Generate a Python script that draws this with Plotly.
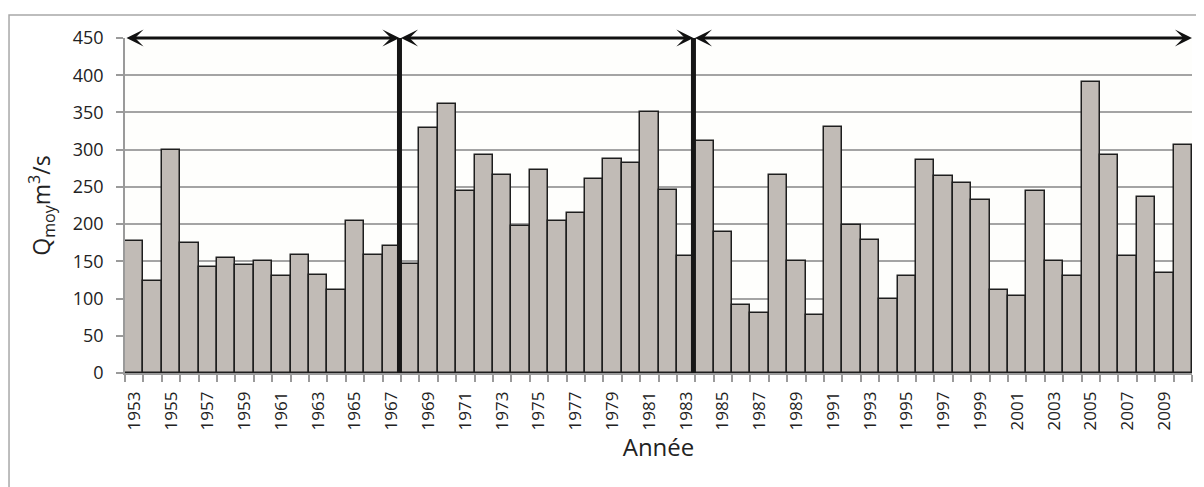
import plotly.graph_objects as go

years = list(range(1953, 2011))
q_moy = [177, 123, 300, 175, 143, 154, 145, 150, 130, 159,
         132, 112, 204, 159, 170, 146, 329, 362, 244, 293,
         266, 197, 273, 204, 215, 260, 287, 282, 351, 246,
         157, 311, 190, 92, 81, 266, 150, 78, 331, 199,
         179, 99, 130, 286, 264, 255, 233, 112, 103, 244,
         150, 130, 391, 293, 157, 237, 134, 306]
tick_years = list(range(1953, 2010, 2))
breaks = [1967.42, 1983.4]
x_min, x_max = 1952.5, 2010.5
y_top = 450

FONT = "Open Sans"

fig = go.Figure()
fig.add_trace(go.Bar(
    x=years, y=q_moy, width=1,
    marker=dict(color="#c1bbb6", line=dict(color="#1e1e1e", width=1.5)),
    showlegend=False,
))

shapes = []
for b in breaks:
    shapes.append(dict(type="line", xref="x", yref="y", x0=b, x1=b, y0=-5, y1=y_top,
                       line=dict(color="#161616", width=5), layer="above"))
# outer frame
shapes.append(dict(type="rect", xref="paper", yref="paper",
                   x0=-0.1087, x1=1.03, y0=-0.40, y1=1.0687,
                   line=dict(color="#a8a8a8", width=1.5), fillcolor="rgba(0,0,0,0)", layer="below"))

segments = [(x_min, breaks[0]), (breaks[0], breaks[1]), (breaks[1], x_max)]
annotations = []
for a, b in segments:
    annotations.append(dict(
        x=b, y=y_top, ax=a, ay=y_top, xref="x", yref="y", axref="x", ayref="y",
        text="", showarrow=True, arrowhead=3, startarrowhead=3, arrowside="end+start",
        arrowwidth=3, arrowsize=0.95, startarrowsize=0.95, arrowcolor="#111111",
    ))

fig.update_layout(
    width=1196, height=479,
    margin=dict(l=117, r=12, t=30, b=114),
    paper_bgcolor="white", plot_bgcolor="#fefefc",
    bargap=0,
    shapes=shapes, annotations=annotations,
    font=dict(family=FONT, color="#222222"),
    xaxis=dict(
        range=[x_min, x_max], tickmode="array", tickvals=tick_years,
        ticktext=[str(y) for y in tick_years], tickangle=-90,
        tickfont=dict(size=17, family=FONT, color="#222222"),
        ticks="outside", ticklen=0, ticklabelstandoff=10, showgrid=False, zeroline=False,
        showline=True, linecolor="#9a9a9a", linewidth=1.5,
        minor=dict(ticks="outside", tick0=1952.5, dtick=1, ticklen=7,
                   tickcolor="#9a9a9a", tickwidth=1.5, showgrid=False),
        title=dict(text="Année", font=dict(size=24, family=FONT, color="#222222"), standoff=10),
    ),
    yaxis=dict(
        range=[0, y_top], tickmode="linear", tick0=0, dtick=50,
        tickfont=dict(size=18, family=FONT, color="#222222"),
        ticks="outside", ticklen=7, tickcolor="#9a9a9a", tickwidth=1.5, ticklabelstandoff=9,
        showgrid=True, gridcolor="#a4a4a4", gridwidth=1.5,
        zeroline=False, showline=True, linecolor="#9a9a9a", linewidth=1.5,
        title=dict(text="Q<sub>moy</sub>m<sup>3</sup>/s",
                   font=dict(size=23, family=FONT, color="#222222"), standoff=16),
    ),
)

fig.write_html("out.html")
